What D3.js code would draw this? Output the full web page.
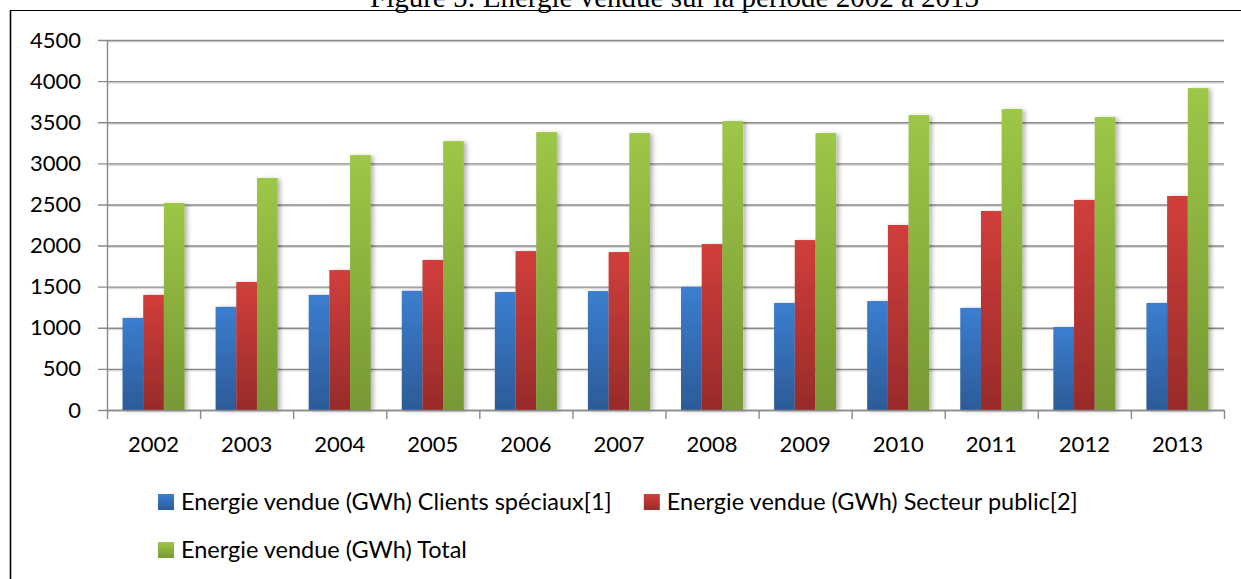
<!DOCTYPE html>
<html lang="fr">
<head>
<meta charset="UTF-8">
<title>Figure 5</title>
<script src="https://cdnjs.cloudflare.com/ajax/libs/d3/7.8.5/d3.min.js"></script>
<style>
  body { margin: 0; background: #fff; }
  svg { display: block; }
  .lbl { font-family: Lato, "Open Sans", sans-serif; font-size: 22px; fill: #000; }
  .leg { font-family: Lato, "Open Sans", sans-serif; font-size: 23.5px; fill: #000; }
</style>
</head>
<body>
<svg width="1241" height="579"></svg>
<script>
// data
const years = ["2002","2003","2004","2005","2006","2007","2008","2009","2010","2011","2012","2013"];
const clientsSpeciaux = [1120,1255,1400,1450,1435,1447,1497,1302,1325,1242,1010,1302];
const secteurPublic   = [1400,1557,1702,1825,1933,1921,2018,2067,2250,2420,2555,2603];
const total           = [2518,2822,3100,3270,3380,3368,3514,3368,3587,3660,3563,3915];
const yTicks = [0,500,1000,1500,2000,2500,3000,3500,4000,4500];
const seriesNames = [
  "Energie vendue (GWh) Clients spéciaux[1]",
  "Energie vendue (GWh) Secteur public[2]",
  "Energie vendue (GWh) Total"
];
const seriesValues = [clientsSpeciaux, secteurPublic, total];
// gradient top / bottom per series
const colTop = ["#3b7ed0", "#d13e3b", "#9dc746"];
const colBot = ["#2c5b98", "#982b2a", "#779835"];

const svg = d3.select("svg");
const plotL = 107, plotR = 1224, plotT = 40, plotB = 410;

const defs = svg.append("defs");
seriesNames.forEach((s, i) => {
  const g = defs.append("linearGradient").attr("id", "grad" + i)
    .attr("x1", 0).attr("y1", 0).attr("x2", 0).attr("y2", 1);
  g.append("stop").attr("offset", "0%").attr("stop-color", colTop[i]);
  g.append("stop").attr("offset", "100%").attr("stop-color", colBot[i]);
});
const f = defs.append("filter").attr("id", "shadow")
  .attr("x", "-30%").attr("y", "-5%").attr("width", "170%").attr("height", "115%");
f.append("feDropShadow").attr("dx", 3).attr("dy", 1).attr("stdDeviation", 2)
  .attr("flood-color", "#000").attr("flood-opacity", 0.28);

// frame + title
svg.append("line").attr("x1", 10).attr("x2", 1241).attr("y1", 10.5).attr("y2", 10.5)
  .attr("stroke", "#000").attr("stroke-width", 1.2);
svg.append("line").attr("x1", 10.5).attr("x2", 10.5).attr("y1", 10).attr("y2", 579)
  .attr("stroke", "#000").attr("stroke-width", 1.6);
svg.append("text").attr("x", 370).attr("y", 7)
  .attr("font-family", "'Liberation Serif', 'Times New Roman', serif")
  .attr("font-size", 29)
  .text("Figure 5: Energie vendue sur la période 2002 à 2013");

const x0 = d3.scaleBand().domain(years).range([plotL, plotR]);
const x1 = d3.scaleBand().domain(d3.range(3)).range([0, x0.bandwidth()])
  .paddingInner(0).paddingOuter(0.75);
const y = d3.scaleLinear().domain([0, 4500]).range([plotB, plotT]);

// gridlines (with a light shadow under each)
const grid = svg.append("g");
grid.selectAll("line.sh").data(yTicks.slice(1)).enter().append("line")
  .attr("x1", plotL).attr("x2", plotR)
  .attr("y1", d => y(d) + 1.8).attr("y2", d => y(d) + 1.8)
  .attr("stroke", "#dcdcdc").attr("stroke-width", 1.5);
grid.selectAll("line.gl").data(yTicks).enter().append("line")
  .attr("x1", plotL - 9).attr("x2", plotR)
  .attr("y1", d => y(d) + 0.5).attr("y2", d => y(d) + 0.5)
  .attr("stroke", "#8a8a8a").attr("stroke-width", 1.4);

// y axis labels
svg.append("g").attr("transform", `translate(${plotL},0)`)
  .call(d3.axisLeft(y).tickValues(yTicks).tickFormat(d3.format("d")).tickSize(0).tickPadding(26))
  .call(g => g.select(".domain").remove())
  .selectAll("text").attr("class", "lbl").attr("font-size", null).attr("font-family", null);

// bars
const groups = svg.append("g").selectAll("g").data(years).enter().append("g")
  .attr("transform", d => `translate(${x0(d)},0)`);
groups.selectAll("rect").data((d, j) => seriesValues.map((v, i) => ({ i, v: v[j] })))
  .enter().append("rect")
  .attr("x", d => x1(d.i))
  .attr("width", x1.bandwidth())
  .attr("y", d => y(d.v))
  .attr("height", d => y(0) - y(d.v))
  .attr("fill", d => `url(#grad${d.i})`)
  .attr("filter", "url(#shadow)");

// axes lines drawn over bars
svg.append("line").attr("x1", plotL + 0.5).attr("x2", plotL + 0.5).attr("y1", plotT).attr("y2", plotB)
  .attr("stroke", "#8a8a8a").attr("stroke-width", 1.4);
svg.append("line").attr("x1", plotL).attr("x2", plotR).attr("y1", plotB + 0.5).attr("y2", plotB + 0.5)
  .attr("stroke", "#8a8a8a").attr("stroke-width", 1.4);
const bounds = years.map(d => x0(d)).concat([plotR]);
svg.append("g").selectAll("line").data(bounds).enter().append("line")
  .attr("x1", d => d + 0.5).attr("x2", d => d + 0.5)
  .attr("y1", plotB).attr("y2", plotB + 9)
  .attr("stroke", "#8a8a8a").attr("stroke-width", 1.4);

// x labels
svg.append("g").attr("transform", `translate(0,${plotB})`)
  .call(d3.axisBottom(x0).tickSize(0).tickPadding(26))
  .call(g => g.select(".domain").remove())
  .selectAll("text").attr("class", "lbl").attr("font-size", null).attr("font-family", null);

// legend
const legend = svg.append("g");
const rows = [[0, 1], [2]];
const rowBase = [510, 558];
rows.forEach((items, r) => {
  let cx = 158;
  items.forEach(i => {
    legend.append("rect").attr("x", cx).attr("y", rowBase[r] - 16)
      .attr("width", 16).attr("height", 16).attr("fill", `url(#grad${i})`);
    const t = legend.append("text").attr("class", "leg")
      .attr("x", cx + 23).attr("y", rowBase[r]).text(seriesNames[i]);
    cx = cx + 23 + t.node().getComputedTextLength() + 32;
  });
});
</script>
</body>
</html>
